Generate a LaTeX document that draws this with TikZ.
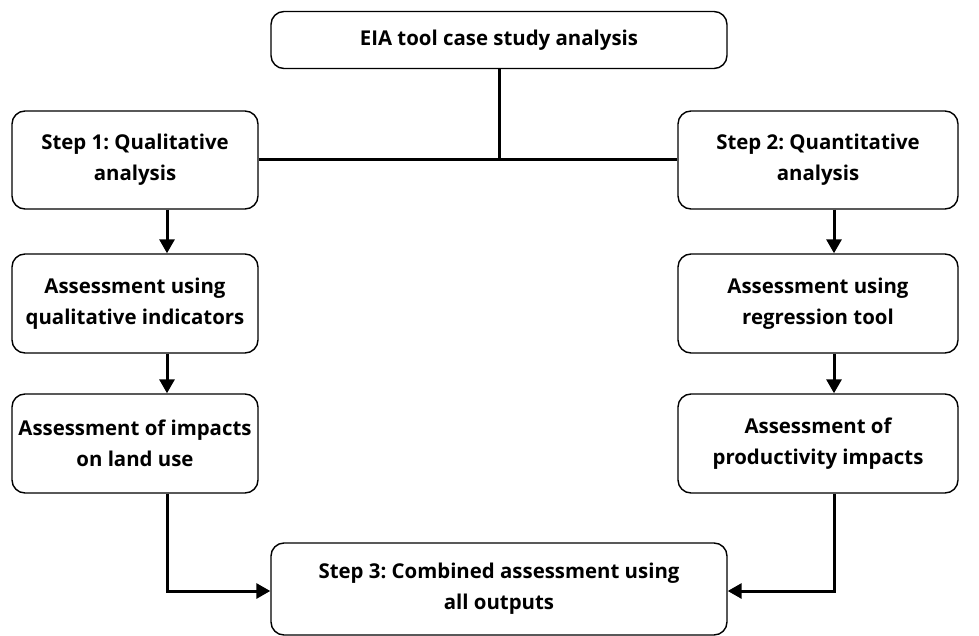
\documentclass[tikz,border=0pt]{standalone}
\usepackage{fontspec}
\setmainfont{Open Sans}
\usetikzlibrary{arrows.meta}
\begin{document}
\frenchspacing
\begin{tikzpicture}[x=1pt,y=-1pt,
  box/.style={draw=black,line width=1.4pt,rounded corners=13pt,fill=white,
    align=center,inner sep=0pt,font=\fontsize{20.4}{31}\selectfont\bfseries},
  link/.style={line width=3pt,draw=black},
  arr/.style={link,-{Triangle[length=14pt,width=15pt]}}]
\useasboundingbox (0,0) rectangle (979,636);
\node[box,minimum width=456pt,minimum height=57pt] (top) at (499,40) {EIA tool case study analysis};
\node[box,minimum width=246pt,minimum height=98pt] (s1) at (135,160) {Step 1: Qualitative\\analysis};
\node[box,minimum width=280pt,minimum height=98pt] (s2) at (818,160) {Step 2: Quantitative\\analysis};
\node[box,minimum width=246pt,minimum height=99pt] (a1) at (135,303.5) {Assessment using\\qualitative indicators};
\node[box,minimum width=280pt,minimum height=99pt] (a2) at (818,303.5) {Assessment using\\regression tool};
\node[box,minimum width=246pt,minimum height=99pt] (b1) at (135,443.5) {Assessment of impacts\\on land use};
\node[box,minimum width=280pt,minimum height=99pt] (b2) at (818,443.5) {Assessment of\\productivity impacts};
\node[box,minimum width=456pt,minimum height=92pt] (s3) at (499,589) {Step 3: Combined assessment using\\all outputs};
\coordinate (lx) at (167,0);
\coordinate (rx) at (834,0);
\coordinate (by) at (0,591);
\draw[link] (top.south) -- (top.south |- s1.east);
\draw[link] (s1.east) -- (s2.west);
\draw[arr] (s1.south -| lx) -- (a1.north -| lx);
\draw[arr] (a1.south -| lx) -- (b1.north -| lx);
\draw[arr] (s2.south -| rx) -- (a2.north -| rx);
\draw[arr] (a2.south -| rx) -- (b2.north -| rx);
\draw[arr] (b1.south -| lx) |- (s3.west |- by);
\draw[arr] (b2.south -| rx) |- (s3.east |- by);
\end{tikzpicture}
\end{document}
